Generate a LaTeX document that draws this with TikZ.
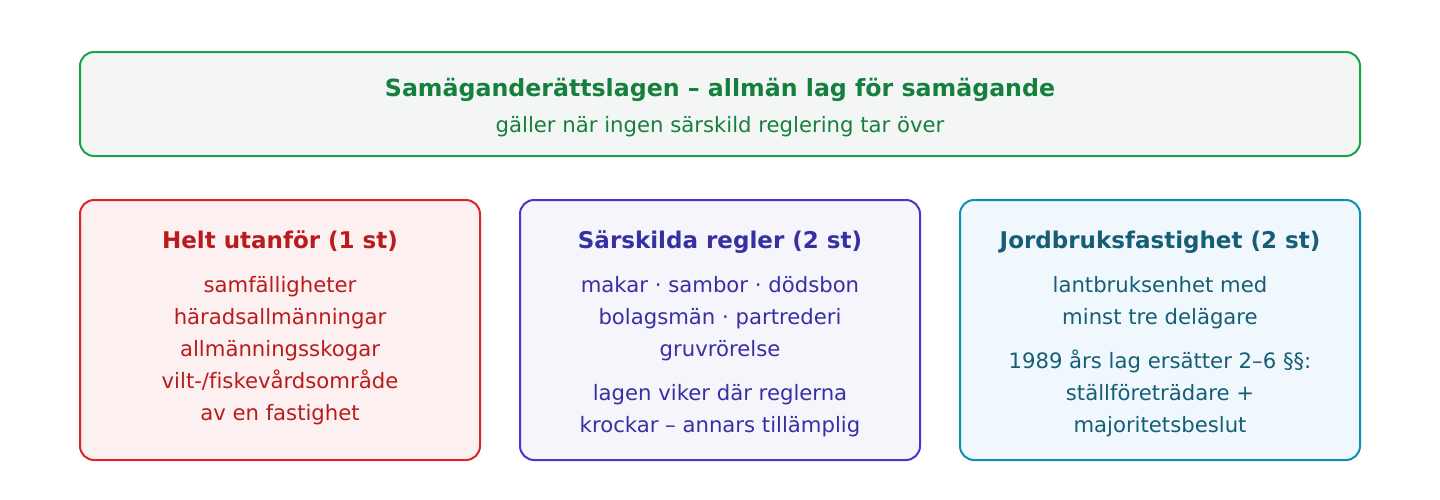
\documentclass[tikz,border=0pt]{standalone}
\usepackage{fontspec}
\setmainfont{DejaVu Sans}[Ligatures=NoCommon]
\usetikzlibrary{positioning}
\usepackage{xcolor}
\definecolor{greenline}{HTML}{16A34A}
\definecolor{greentext}{HTML}{15803D}
\definecolor{greenfill}{HTML}{F3F6F4}
\definecolor{redline}{HTML}{DC2626}
\definecolor{redtext}{HTML}{B91C1C}
\definecolor{redfill}{HTML}{FDF0F1}
\definecolor{blueline}{HTML}{4338CA}
\definecolor{bluetext}{HTML}{3730A3}
\definecolor{bluefill}{HTML}{F5F5FB}
\definecolor{tealline}{HTML}{0891B2}
\definecolor{tealtext}{HTML}{155E75}
\definecolor{tealfill}{HTML}{F0F8FE}
\newcommand{\headline}[2][17.25]{\rule{0pt}{18pt}{\fontsize{#1}{24}\selectfont\bfseries #2}}
\begin{document}
\begin{tikzpicture}[x=0.75pt,y=-0.75pt,
    card/.style={draw=#1line, fill=#1fill, line width=1.5pt,
        rounded corners=10.5pt, inner sep=0pt, outer sep=0pt,
        minimum width=300pt, minimum height=195pt},
    txt/.style={text=#1text, anchor=north, inner sep=0pt, align=center,
        font=\fontsize{15.9}{24}\selectfont}]
    \useasboundingbox (0,0) rectangle (1440,500);

    \node[card=green, minimum width=960pt, minimum height=78pt] (top) at (720,104) {};
    \node[card=red, below=33pt of top.south west, anchor=north west] (outside) {};
    \node[card=blue, right=30pt of outside] (special) {};
    \node[card=teal, right=30pt of special] (farm) {};

    \node[txt=green] (toptext) at ([yshift=-15pt]top.north)
        {\headline[17.75]{Samäganderättslagen – allmän lag för samägande}\\[3pt]
         gäller när ingen särskild reglering tar över};

    \node[txt=red] (outsidetext) at ([yshift=-18pt]outside.north)
        {\headline{Helt utanför (1 st)}\\[9pt]
         samfälligheter\\ häradsallmänningar\\ allmänningsskogar\\
         vilt-/fiskevårdsområde\\ av en fastighet};

    \node[txt=blue] (specialtext) at ([yshift=-18pt]special.north)
        {\headline{Särskilda regler (2 st)}\\[9pt]
         makar · sambor · dödsbon\\ bolagsmän · partrederi\\ gruvrörelse\\[9pt]
         lagen viker där reglerna\\ krockar – annars tillämplig};

    \node[txt=teal] (farmtext) at ([yshift=-18pt]farm.north)
        {\headline{Jordbruksfastighet (2 st)}\\[9pt]
         lantbruksenhet med\\ minst tre delägare\\[9pt]
         1989 års lag ersätter 2–6 §§:\\ ställföreträdare +\\ majoritetsbeslut};

\end{tikzpicture}
\end{document}
